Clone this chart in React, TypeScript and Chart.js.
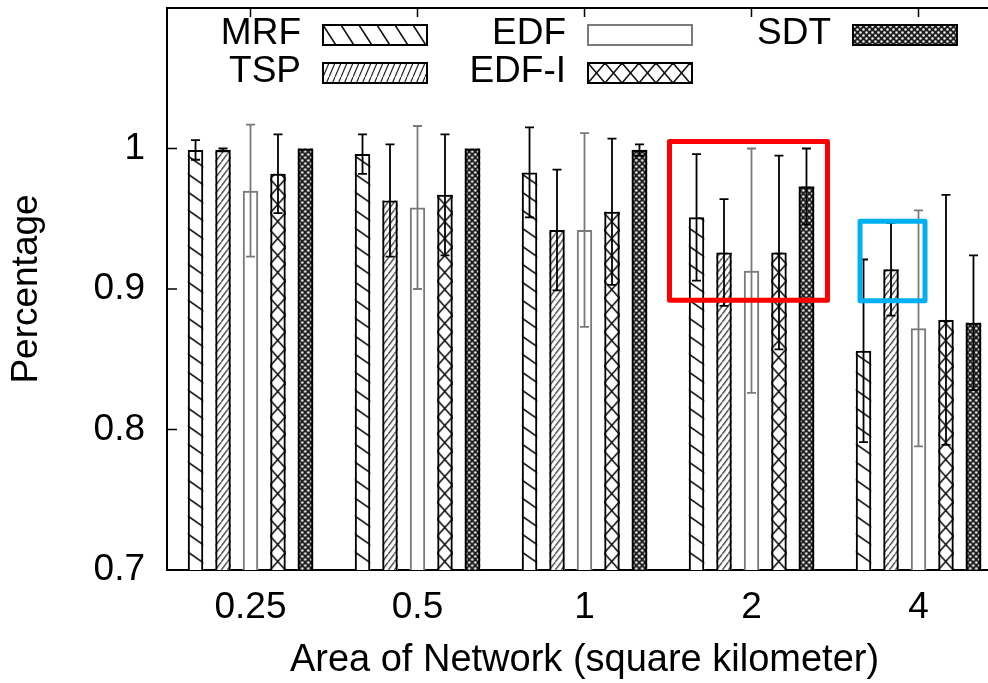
import React, { useEffect, useRef } from "react";
import { Chart, registerables } from "chart.js";

Chart.register(...registerables);

// ---------- data ----------
const categories = ["0.25", "0.5", "1", "2", "4"];
const seriesNames = ["MRF", "TSP", "EDF", "EDF-I", "SDT"];

const mrfValues = [0.999, 0.996, 0.983, 0.951, 0.856];
const mrfErrors = [0.007, 0.014, 0.032, 0.045, 0.065];
const tspValues = [0.999, 0.963, 0.942, 0.926, 0.914];
const tspErrors = [0.001, 0.04, 0.043, 0.038, 0.033];
const edfValues = [0.97, 0.958, 0.942, 0.913, 0.872];
const edfErrors = [0.047, 0.058, 0.069, 0.087, 0.084];
const edfiValues = [0.982, 0.967, 0.955, 0.926, 0.878];
const edfiErrors = [0.028, 0.043, 0.052, 0.069, 0.089];
const sdtValues = [1.0, 1.0, 0.999, 0.973, 0.876];
const sdtErrors = [0, 0, 0.004, 0.027, 0.048];

const yTickValues = [0.7, 0.8, 0.9, 1.0];

// highlight boxes in data units (x: category index, y: percentage)
const redBox = [2.509, 3.455, 0.892, 1.005];
const blueBox = [3.65, 4.039, 0.8917, 0.9482];

const seriesValues = [mrfValues, tspValues, edfValues, edfiValues, sdtValues];
const seriesErrors = [mrfErrors, tspErrors, edfErrors, edfiErrors, sdtErrors];

const FONT = "'Liberation Sans', Arial, Helvetica, sans-serif";
const EDF_GRAY = "#7a7a7a";

type Tile = (g: CanvasRenderingContext2D, w: number, h: number) => void;

function makePattern(ctx: CanvasRenderingContext2D, w: number, h: number, draw: Tile) {
  const c = document.createElement("canvas");
  c.width = w;
  c.height = h;
  const g = c.getContext("2d")!;
  draw(g, w, h);
  return ctx.createPattern(c, "repeat")!;
}

const backslash = (lw: number, color: string): Tile => (g, w, h) => {
  g.fillStyle = "#fff";
  g.fillRect(0, 0, w, h);
  g.strokeStyle = color;
  g.lineWidth = lw;
  for (let n = -1; n <= 1; n++) {
    g.beginPath();
    g.moveTo(0, n * h);
    g.lineTo(w, n * h + h);
    g.stroke();
  }
};
const slash = (lw: number, color: string): Tile => (g, w, h) => {
  g.fillStyle = "#fff";
  g.fillRect(0, 0, w, h);
  g.strokeStyle = color;
  g.lineWidth = lw;
  for (let n = -1; n <= 1; n++) {
    g.beginPath();
    g.moveTo(0, n * h + h);
    g.lineTo(w, n * h);
    g.stroke();
  }
};
const cross = (lw: number, color: string): Tile => (g, w, h) => {
  backslash(lw, color)(g, w, h);
  g.strokeStyle = color;
  g.lineWidth = lw;
  for (let n = -1; n <= 1; n++) {
    g.beginPath();
    g.moveTo(0, n * h + h);
    g.lineTo(w, n * h);
    g.stroke();
  }
};
const empty: Tile = (g, w, h) => {
  g.fillStyle = "#fff";
  g.fillRect(0, 0, w, h);
};
const dots: Tile = (g, w, h) => {
  g.fillStyle = "#1e1e1e";
  g.fillRect(0, 0, w, h);
  g.fillStyle = "#f2f2f2";
  g.beginPath();
  g.arc(w * 0.25, h * 0.25, 1.3, 0, Math.PI * 2);
  g.arc(w * 0.75, h * 0.75, 1.3, 0, Math.PI * 2);
  g.fill();
};

export default function App() {
  const canvasRef = useRef<HTMLCanvasElement | null>(null);

  useEffect(() => {
    const canvas = canvasRef.current!;
    const ctx = canvas.getContext("2d")!;

    const barPatterns = [
      makePattern(ctx, 26, 18, backslash(1.6, "#111")),
      makePattern(ctx, 6, 8, slash(1.2, "#222")),
      makePattern(ctx, 4, 4, empty),
      makePattern(ctx, 15, 17, cross(1.5, "#111")),
      makePattern(ctx, 6, 6, dots),
    ];
    const legendPatterns = [
      makePattern(ctx, 18, 28, backslash(1.6, "#111")),
      makePattern(ctx, 6, 14, slash(1.2, "#222")),
      makePattern(ctx, 4, 4, empty),
      makePattern(ctx, 17, 20, cross(1.5, "#111")),
      makePattern(ctx, 6, 6, dots),
    ];
    const strokeFor = (i: number) => (i === 2 ? EDF_GRAY : "#000");

    const decorPlugin = {
      id: "decor",
      beforeDatasetsDraw(chart: any) {
        const c = chart.ctx as CanvasRenderingContext2D;
        const area = chart.chartArea;
        c.save();
        c.beginPath();
        c.rect(area.left, area.top, area.right - area.left, area.bottom - area.top);
        c.clip();
        chart.data.datasets.forEach((_: any, di: number) => {
          const meta = chart.getDatasetMeta(di);
          meta.data.forEach((el: any) => {
            const { x, y, width } = el.getProps(["x", "y", "width"], true);
            const left = x - width / 2;
            const bottom = area.bottom;
            const pat = barPatterns[di];
            pat.setTransform(new DOMMatrix([1, 0, 0, 1, left, bottom]));
            c.fillStyle = pat;
            c.fillRect(left, y, width, bottom - y);
          });
        });
        c.restore();
      },
      afterDatasetsDraw(chart: any) {
        const c = chart.ctx as CanvasRenderingContext2D;
        const xs = chart.scales.x;
        const ys = chart.scales.y;
        const area = chart.chartArea;
        // error bars
        chart.data.datasets.forEach((_: any, di: number) => {
          const meta = chart.getDatasetMeta(di);
          meta.data.forEach((el: any, idx: number) => {
            const err = seriesErrors[di][idx];
            if (!err) return;
            const v = seriesValues[di][idx];
            const x = el.x;
            const yHi = ys.getPixelForValue(v + err);
            const yLo = ys.getPixelForValue(v - err);
            c.save();
            c.strokeStyle = strokeFor(di);
            c.lineWidth = 1.8;
            c.beginPath();
            c.moveTo(x, yHi);
            c.lineTo(x, yLo);
            c.moveTo(x - 4.5, yHi);
            c.lineTo(x + 4.5, yHi);
            c.moveTo(x - 4.5, yLo);
            c.lineTo(x + 4.5, yLo);
            c.stroke();
            c.restore();
          });
        });
        // frame: top border, inward ticks
        c.save();
        c.strokeStyle = "#000";
        c.lineWidth = 2;
        c.beginPath();
        c.moveTo(area.left, area.top);
        c.lineTo(area.right, area.top);
        c.stroke();
        c.lineWidth = 1.5;
        c.beginPath();
        categories.forEach((_, i) => {
          const x = xs.getPixelForValue(i);
          c.moveTo(x, area.top);
          c.lineTo(x, area.top + 9);
        });
        yTickValues.forEach((v) => {
          const y = ys.getPixelForValue(v);
          c.moveTo(area.left, y);
          c.lineTo(area.left + 10, y);
        });
        c.stroke();
        c.restore();
      },
      afterDraw(chart: any) {
        const c = chart.ctx as CanvasRenderingContext2D;
        const xs = chart.scales.x;
        const ys = chart.scales.y;
        const area = chart.chartArea;
        // legend (gnuplot style: label then sample box)
        c.save();
        c.font = `37px ${FONT}`;
        c.textAlign = "right";
        c.textBaseline = "middle";
        seriesNames.forEach((name, i) => {
          const col = Math.floor(i / 2);
          const row = i % 2;
          const bx = area.left + 156 + col * 265;
          const cy = area.top + 27 + row * 38;
          const bw = 104;
          const bh = 20;
          c.fillStyle = "#000";
          c.fillText(name, bx - 22, cy - 1.5);
          const pat = legendPatterns[i];
          pat.setTransform(new DOMMatrix([1, 0, 0, 1, bx, cy - bh / 2]));
          c.fillStyle = pat;
          c.fillRect(bx, cy - bh / 2, bw, bh);
          c.strokeStyle = strokeFor(i);
          c.lineWidth = 2;
          c.strokeRect(bx, cy - bh / 2, bw, bh);
        });
        c.restore();
        // highlight rectangles
        const drawBox = (b: number[], color: string) => {
          const x0 = xs.getPixelForValue(b[0]);
          const x1 = xs.getPixelForValue(b[1]);
          const y0 = ys.getPixelForValue(b[2]);
          const y1 = ys.getPixelForValue(b[3]);
          c.save();
          c.strokeStyle = color;
          c.lineWidth = 5;
          c.lineJoin = "round";
          c.strokeRect(Math.min(x0, x1), Math.min(y0, y1), Math.abs(x1 - x0), Math.abs(y1 - y0));
          c.restore();
        };
        drawBox(redBox, "#ff0000");
        drawBox(blueBox, "#00b0f0");
      },
    };

    const chart = new Chart(canvas, {
      type: "bar",
      data: {
        labels: categories,
        datasets: seriesNames.map((name, i) => ({
          label: name,
          data: seriesValues[i],
          backgroundColor: "rgba(0,0,0,0)",
          borderColor: strokeFor(i),
          borderWidth: 2,
          categoryPercentage: 0.823,
          barPercentage: 0.564,
        })),
      },
      options: {
        animation: false,
        responsive: false,
        devicePixelRatio: 1,
        layout: { padding: { top: 8, left: 0, right: 0, bottom: 0 } },
        plugins: {
          legend: { display: false },
          tooltip: { enabled: false },
        },
        scales: {
          x: {
            grid: { display: false, drawTicks: false },
            border: { display: true, color: "#000", width: 2 },
            ticks: {
              padding: 16,
              color: "#000",
              maxRotation: 0,
              autoSkip: false,
              font: { family: FONT, size: 37 },
            },
            title: {
              display: true,
              text: "Area of Network (square kilometer)",
              color: "#000",
              padding: 0,
              font: { family: FONT, size: 38 },
            },
            afterFit: (s: any) => {
              s.height = 113;
              s.paddingLeft = 0;
              s.paddingRight = 0;
            },
          },
          y: {
            min: 0.7,
            max: 1.1,
            grid: { display: false, drawTicks: false },
            border: { display: true, color: "#000", width: 2 },
            afterBuildTicks: (s: any) => {
              s.ticks = yTickValues.map((v) => ({ value: v }));
            },
            ticks: {
              padding: 22,
              color: "#000",
              font: { family: FONT, size: 37 },
              callback: (v: any) => {
                const n = Number(v);
                return Math.abs(n - 1) < 1e-9 ? "1" : n.toFixed(1);
              },
            },
            title: {
              display: true,
              text: "Percentage",
              color: "#000",
              padding: { top: 5, bottom: 0 },
              font: { family: FONT, size: 37 },
            },
            afterFit: (s: any) => {
              s.width = 167;
              s.paddingTop = 0;
              s.paddingBottom = 0;
            },
          },
        },
      },
      plugins: [decorPlugin],
    } as any);

    return () => chart.destroy();
  }, []);

  return (
    <div
      style={{
        position: "absolute",
        left: 0,
        top: 0,
        width: 988,
        height: 683,
        overflow: "hidden",
        background: "#fff",
      }}
    >
      <canvas ref={canvasRef} width={1002} height={683} style={{ display: "block" }} />
    </div>
  );
}
